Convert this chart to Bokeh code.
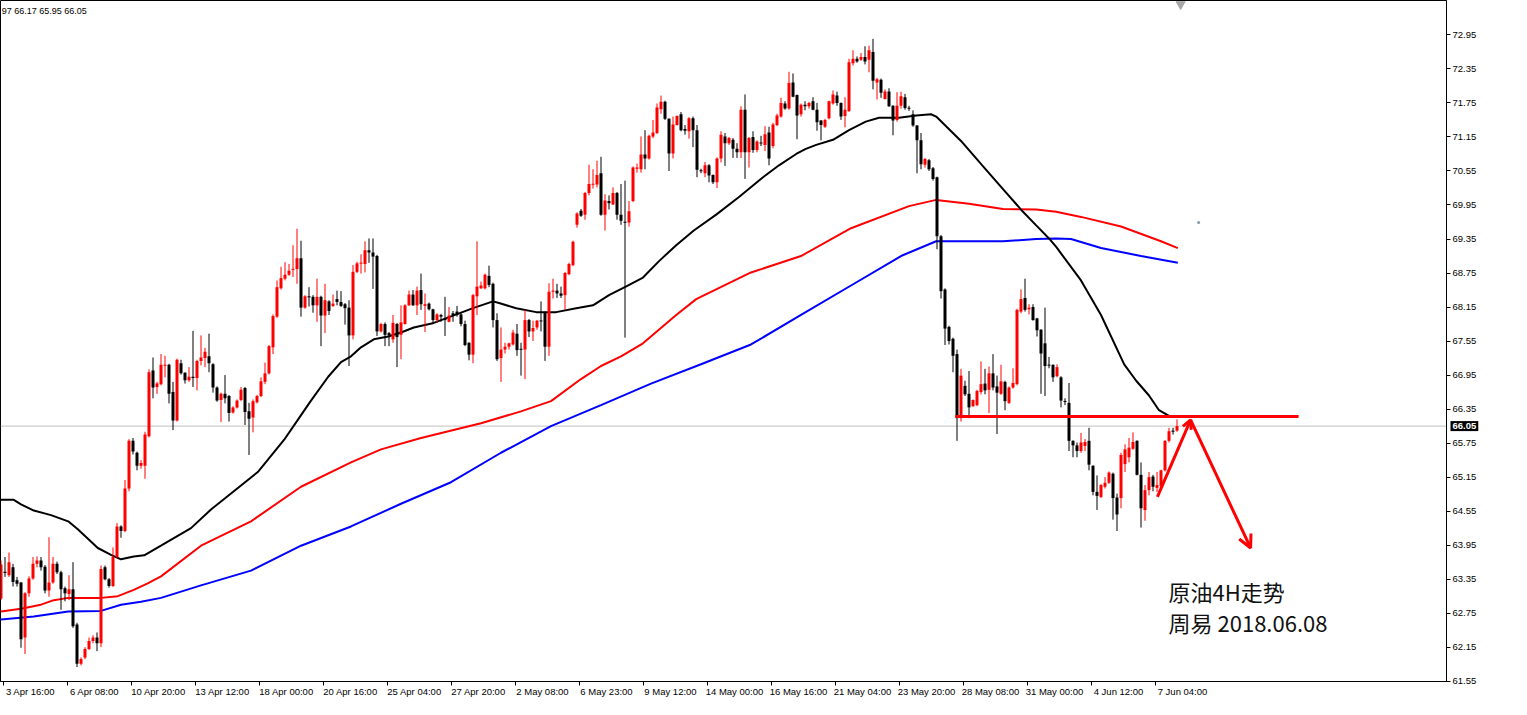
from bokeh.plotting import figure
from bokeh.models import (Range1d, FixedTicker, CustomJSTickFormatter, PrintfTickFormatter,
                          LinearAxis, Span, Label, Arrow, OpenHead, ColumnDataSource)
from bokeh.core.properties import value
from bokeh.embed import file_html
from bokeh.resources import INLINE

# ---------------- data (CL 4H) ----------------
opens = [
    63.01, 63.48, 63.42, 63.56, 63.33, 63.29, 62.32, 63.10, 63.36, 63.62,
    63.68, 63.57, 63.15, 63.29, 63.62, 63.47, 63.19, 63.09, 63.17, 62.55,
    61.86, 61.97, 62.12, 62.26, 62.32, 62.22, 63.56, 63.35, 63.23, 63.74,
    64.28, 64.20, 64.95, 65.79, 65.58, 65.35, 65.35, 65.87,
    67.03, 66.74, 66.79, 67.12, 67.13, 66.65, 66.15, 67.16, 66.99, 66.86,
    66.92, 66.90, 67.20, 67.25, 67.28, 67.14, 66.73, 66.51, 66.62, 66.58,
    66.29, 66.38, 66.51, 66.72, 66.31, 66.20, 66.47, 66.58, 66.83, 66.98,
    67.44, 67.98, 68.48, 68.65, 68.72, 68.81, 68.82, 69.01, 68.14, 68.34,
    68.33, 68.18, 68.33, 68.00, 68.25, 68.17, 68.29, 68.24, 68.20, 68.14,
    67.65, 68.77, 68.92, 68.91, 69.15, 69.11, 69.05, 67.72, 67.85, 67.69,
    67.58, 67.85, 67.66, 67.85, 68.18, 68.37, 68.18, 68.45, 68.17, 68.21,
    68.11, 67.92, 68.01, 67.94, 67.89, 68.04, 68.07,
    68.02, 67.85, 67.52, 67.31, 68.34, 68.48, 68.48, 68.70, 68.56, 67.92,
    67.25, 67.40, 67.45, 67.49, 67.68, 67.41, 67.40, 67.92, 67.72, 67.79,
    67.91, 68.05, 67.45, 68.42, 68.44, 68.39, 68.36, 68.73, 68.89,
    69.60, 69.85, 69.78, 70.16, 70.31, 70.31, 70.51, 69.78, 70.02, 69.96,
    70.16, 69.78, 69.65, 69.64, 70.02, 70.59, 70.58, 70.84, 70.77, 71.16,
    71.22, 71.64, 71.77, 71.47, 70.86, 71.36, 71.55, 71.29, 71.25, 71.48,
    71.27, 70.56, 70.51, 70.65, 70.48, 70.35, 70.77, 71.16, 71.04, 71.10,
    70.94, 70.88, 71.63, 70.88, 71.15, 70.92, 71.05, 71.01, 71.23, 70.99,
    71.36, 71.51, 71.74, 71.65, 72.11, 71.89, 71.55, 71.72, 71.69, 71.78,
    71.63, 71.44, 71.33, 71.48, 71.74, 71.88, 71.75, 71.52, 71.61, 72.45,
    72.53, 72.51, 72.56, 72.51, 72.65, 72.11, 72.16, 71.82, 71.95, 71.70,
    71.45, 71.70, 71.85, 71.66, 71.55, 71.35, 71.09, 70.66, 70.74, 70.60,
    70.44, 69.40, 68.46, 67.80, 67.59, 67.32, 66.19, 66.76, 66.62, 66.40,
    66.42, 66.65, 66.80, 66.69, 66.98, 66.75, 66.62, 66.83, 66.46, 66.73,
    66.79, 68.07, 68.31, 68.11, 68.15, 67.95, 67.75, 67.51, 67.13, 67.13,
    66.93, 66.91, 66.49, 66.46, 65.79, 65.71, 65.61, 65.70, 65.79, 65.35,
    64.89, 64.80, 64.98, 65.05, 65.21, 64.79, 64.78, 65.38, 65.50, 65.65,
    65.79, 65.19, 64.57, 64.92, 65.16, 64.96, 64.99, 65.27, 65.79, 65.97, 65.97,
]
highs = [
    63.68, 63.74, 63.82, 63.62, 63.39, 63.30, 63.12, 63.40, 63.74, 63.75,
    63.74, 63.60, 64.09, 63.74, 63.66, 63.50, 63.22, 63.42, 63.65, 62.58,
    61.97, 62.15, 62.32, 62.36, 62.41, 63.59, 63.59, 63.37, 63.91, 64.34,
    64.30, 65.10, 65.82, 65.84, 65.60, 65.45, 65.95, 67.05,
    67.26, 66.83, 67.32, 67.29, 67.15, 66.83, 67.24, 67.22, 67.00, 67.09,
    67.73, 67.22, 67.65, 67.43, 67.68, 67.16, 66.75, 66.64, 66.95, 66.60,
    66.40, 66.52, 66.74, 66.74, 66.46, 66.52, 66.60, 66.91, 67.17, 67.48,
    68.02, 68.62, 68.86, 68.94, 68.91, 69.24, 69.53, 69.32, 68.36, 68.50,
    68.36, 68.65, 68.35, 68.56, 68.27, 68.37, 68.44, 68.43, 68.22, 68.27,
    68.89, 68.95, 69.08, 69.31, 69.36, 69.36, 69.07, 67.87, 67.88, 67.71,
    68.01, 67.87, 68.18, 68.20, 68.44, 68.45, 68.51, 68.74, 68.39, 68.23,
    68.12, 68.04, 68.03, 68.33, 68.15, 68.08, 68.17,
    68.04, 67.91, 67.53, 68.38, 69.31, 68.60, 68.74, 68.88, 68.58, 68.04,
    67.79, 67.52, 67.52, 67.75, 67.85, 67.52, 68.10, 67.94, 67.91, 67.92,
    68.25, 68.07, 68.57, 68.65, 68.56, 68.51, 68.77, 68.93, 69.32,
    69.82, 69.88, 70.18, 70.66, 70.58, 70.73, 70.80, 70.14, 70.12, 70.26,
    70.18, 70.32, 70.38, 70.02, 70.63, 70.68, 71.16, 71.27, 71.19, 71.45,
    71.74, 71.88, 71.79, 71.48, 71.51, 71.53, 71.59, 71.36, 71.50, 71.51,
    71.36, 70.59, 70.71, 70.67, 70.49, 70.79, 71.25, 71.22, 71.15, 71.13,
    71.04, 71.69, 71.90, 71.15, 71.25, 71.09, 71.17, 71.34, 71.33, 71.40,
    71.56, 71.84, 71.78, 72.30, 72.27, 71.90, 71.74, 71.78, 71.77, 71.85,
    71.75, 71.45, 71.47, 71.79, 71.97, 71.95, 71.76, 71.85, 72.53, 72.68,
    72.57, 72.63, 72.75, 72.76, 72.88, 72.19, 72.18, 71.99, 72.01, 71.71,
    71.94, 71.95, 71.91, 71.70, 71.62, 71.36, 71.22, 70.78, 70.76, 70.62,
    70.45, 69.42, 68.48, 67.82, 67.61, 67.40, 67.06, 66.85, 67.02, 66.52,
    66.69, 67.19, 67.06, 67.10, 67.32, 66.94, 67.13, 66.85, 66.75, 67.07,
    68.12, 68.46, 68.65, 68.20, 68.20, 67.96, 67.76, 68.14, 67.27, 67.14,
    67.14, 66.93, 66.54, 66.81, 65.80, 65.76, 65.93, 65.82, 66.02, 65.36,
    65.18, 65.03, 65.15, 65.25, 65.23, 64.86, 65.58, 65.73, 65.84, 65.94,
    65.80, 65.41, 65.01, 65.24, 65.19, 65.24, 65.28, 65.80, 66.02, 66.02, 66.17,
]
lows = [
    62.98, 63.39, 63.39, 63.22, 63.22, 62.14, 62.03, 63.04, 63.34, 63.56,
    63.50, 63.10, 63.04, 63.27, 63.44, 62.81, 62.96, 62.98, 62.49, 61.80,
    61.83, 61.94, 62.10, 62.22, 62.08, 62.15, 63.33, 63.20, 63.21, 63.72,
    64.08, 64.18, 64.90, 65.55, 65.27, 65.30, 65.12, 65.85,
    66.54, 66.62, 66.77, 66.91, 66.45, 65.98, 66.13, 66.96, 66.80, 66.83,
    66.74, 66.68, 67.12, 67.09, 67.00, 66.64, 66.48, 66.12, 66.45, 66.13,
    66.27, 66.36, 66.49, 66.07, 65.54, 65.94, 66.45, 66.56, 66.79, 66.96,
    67.32, 67.96, 68.46, 68.62, 68.70, 68.68, 68.56, 67.98, 68.12, 68.16,
    68.05, 67.89, 67.46, 67.69, 68.01, 68.15, 68.18, 68.15, 67.84, 67.11,
    67.58, 68.75, 68.74, 68.76, 68.93, 68.47, 67.64, 67.70, 67.46, 67.46,
    67.52, 67.09, 67.23, 67.84, 68.17, 68.17, 68.01, 68.10, 67.71, 68.09,
    67.85, 67.87, 67.89, 67.64, 67.88, 67.89, 67.98,
    67.81, 67.46, 67.21, 67.16, 68.01, 68.47, 68.46, 68.50, 67.79, 67.20,
    66.83, 67.33, 67.40, 67.47, 67.29, 66.94, 66.88, 67.62, 67.55, 67.75,
    67.72, 67.20, 67.29, 68.30, 68.31, 68.31, 68.10, 68.71, 68.87,
    69.55, 69.74, 69.69, 70.12, 70.24, 70.26, 69.76, 69.50, 69.87, 69.95,
    69.69, 69.60, 67.61, 69.57, 70.00, 70.52, 70.52, 70.58, 70.75, 71.13,
    71.20, 71.56, 71.45, 70.55, 70.77, 71.35, 71.25, 71.19, 71.12, 70.97,
    70.44, 70.51, 70.44, 70.35, 70.32, 70.25, 70.70, 70.64, 71.01, 70.78,
    70.78, 70.78, 70.41, 70.61, 70.87, 70.88, 70.99, 70.90, 70.65, 70.95,
    71.34, 71.49, 71.63, 71.63, 71.85, 71.11, 71.51, 71.62, 71.65, 71.62,
    71.26, 71.09, 71.31, 71.46, 71.72, 71.70, 71.45, 71.32, 71.59, 72.41,
    72.46, 72.49, 72.43, 72.29, 71.99, 71.81, 71.84, 71.81, 71.68, 71.18,
    71.42, 71.65, 71.63, 71.61, 71.33, 70.51, 70.58, 70.61, 70.55, 70.38,
    69.17, 68.30, 67.48, 67.49, 67.00, 65.79, 66.13, 66.58, 66.19, 66.39,
    66.40, 66.61, 66.61, 66.28, 66.68, 65.91, 66.60, 66.33, 66.44, 66.71,
    66.77, 68.04, 68.07, 68.02, 67.91, 67.63, 66.62, 66.58, 67.07, 66.83,
    66.91, 66.38, 66.42, 65.61, 65.50, 65.50, 65.58, 65.61, 65.27, 64.83,
    64.57, 64.78, 64.95, 65.03, 64.40, 64.20, 64.60, 65.24, 65.41, 65.63,
    65.18, 64.26, 64.38, 64.83, 64.90, 64.89, 64.92, 65.25, 65.76, 65.90, 65.95,
]
closes = [
    63.61, 63.46, 63.65, 63.30, 63.27, 62.29, 63.10, 63.36, 63.62, 63.68,
    63.56, 63.15, 63.29, 63.62, 63.47, 63.17, 63.10, 63.17, 62.52, 61.86,
    61.94, 62.12, 62.26, 62.32, 62.22, 63.53, 63.35, 63.23, 63.74, 64.28,
    64.20, 64.95, 65.79, 65.60, 65.35, 65.40, 65.90, 67.00,
    66.73, 66.80, 67.13, 67.13, 66.62, 66.15, 67.22, 66.98, 66.86, 66.92,
    66.90, 67.20, 67.26, 67.36, 67.16, 66.73, 66.50, 66.62, 66.54, 66.28,
    66.38, 66.50, 66.69, 66.30, 66.18, 66.49, 66.58, 66.84, 66.98, 67.46,
    67.99, 68.50, 68.66, 68.72, 68.79, 68.82, 69.01, 68.14, 68.34, 68.32,
    68.18, 68.33, 68.00, 68.27, 68.08, 68.21, 68.24, 68.17, 68.13, 67.65,
    68.77, 68.92, 68.93, 69.15, 69.11, 69.04, 67.72, 67.85, 67.66, 67.65,
    67.87, 67.62, 67.88, 68.18, 68.37, 68.18, 68.44, 68.20, 68.20, 68.11,
    67.92, 68.02, 67.98, 67.92, 68.00, 68.01, 68.01,
    67.85, 67.48, 67.31, 68.36, 68.51, 68.53, 68.72, 68.54, 67.92, 67.23,
    67.40, 67.45, 67.51, 67.70, 67.39, 67.40, 67.92, 67.72, 67.78, 67.91,
    67.90, 67.45, 68.42, 68.44, 68.39, 68.35, 68.75, 68.91, 69.30,
    69.80, 69.76, 70.16, 70.32, 70.32, 70.48, 69.78, 70.03, 69.98, 70.16,
    69.78, 69.67, 69.64, 69.84, 70.61, 70.61, 70.84, 70.77, 71.17, 71.23,
    71.67, 71.77, 71.47, 70.86, 71.37, 71.52, 71.27, 71.26, 71.48, 71.27,
    70.57, 70.55, 70.65, 70.47, 70.35, 70.77, 71.19, 71.04, 71.13, 70.94,
    70.88, 71.63, 70.88, 71.13, 70.92, 71.07, 71.04, 71.20, 70.77, 71.37,
    71.53, 71.75, 71.65, 72.10, 71.86, 71.53, 71.72, 71.69, 71.75, 71.63,
    71.41, 71.36, 71.45, 71.78, 71.90, 71.75, 71.51, 71.63, 72.47, 72.53,
    72.48, 72.56, 72.48, 72.68, 72.14, 72.17, 71.93, 71.95, 71.69, 71.44,
    71.70, 71.87, 71.66, 71.65, 71.35, 71.09, 70.67, 70.76, 70.58, 70.41,
    69.40, 68.43, 67.77, 67.55, 67.29, 66.19, 66.94, 66.61, 66.38, 66.51,
    66.67, 66.79, 66.68, 66.98, 66.73, 66.64, 66.84, 66.49, 66.73, 66.81,
    68.10, 68.29, 68.10, 68.14, 67.92, 67.74, 67.33, 67.11, 67.12, 66.91,
    67.09, 66.50, 66.48, 65.79, 65.71, 65.61, 65.76, 65.77, 65.37, 64.89,
    64.82, 65.01, 65.05, 65.23, 64.78, 64.49, 65.54, 65.64, 65.67, 65.77,
    65.19, 64.60, 64.92, 65.15, 64.98, 65.01, 65.27, 65.79, 65.96, 65.95, 66.05,
]

# moving averages: (bar index, value) samples
ma_black_idx = [0, 3.2, 5, 8.2, 12.5, 16.8, 19.2, 21.8, 24.2, 27.5,
                30, 33.2, 35.8, 40, 47.5, 52.5, 57.5, 64.2, 70.8, 74.2,
                77.5, 81.8, 85, 87.5, 90, 93.2, 96.8, 100, 103.2, 108.2,
                114.2, 118, 123, 124.5, 128.8, 133.8, 138.8, 143.8, 148, 152,
                156.2, 160.5, 164.5, 168.8, 173.2, 178.8, 184.5, 190.5, 194.5, 198.8,
                201.2, 203.8, 208, 212, 216.2, 219.5, 224.5, 228.8, 232.5, 233.8,
                240, 245.8, 250.5, 255.5, 258.8, 262, 263.8, 270, 275, 280.8,
                283.8, 287, 289.5, 292, 294.2]
ma_black_val = [64.75, 64.75, 64.67, 64.56, 64.48, 64.37, 64.23, 64.06, 63.90, 63.78,
                63.70, 63.75, 63.77, 63.94, 64.25, 64.58, 64.86, 65.24, 65.81, 66.16,
                66.50, 66.92, 67.18, 67.28, 67.44, 67.58, 67.63, 67.70, 67.79, 67.87,
                68.03, 68.13, 68.25, 68.22, 68.13, 68.06, 68.06, 68.13, 68.18, 68.36,
                68.51, 68.67, 68.96, 69.24, 69.50, 69.78, 70.09, 70.44, 70.65, 70.85,
                70.94, 71.01, 71.10, 71.27, 71.42, 71.49, 71.49, 71.53, 71.55, 71.51,
                71.08, 70.61, 70.23, 69.83, 69.59, 69.36, 69.21, 68.62, 68.01, 67.14,
                66.85, 66.59, 66.33, 66.23, 66.21]
ma_red_idx = [0, 5, 10, 13.2, 16.8, 25, 29.2, 33.2, 36.8, 40,
              50, 62.5, 75, 87.5, 95, 105, 120, 130, 137.5, 145,
              150, 155, 160.5, 168.8, 173.8, 187.5, 200, 212.5, 227, 233.8,
              242, 250.5, 258.8, 263.8, 270, 280, 290, 294.2]
ma_red_val = [62.78, 62.83, 62.90, 62.98, 63.02, 63.02, 63.05, 63.16, 63.28, 63.40,
              63.94, 64.37, 64.98, 65.41, 65.64, 65.84, 66.10, 66.31, 66.49, 66.88,
              67.11, 67.28, 67.51, 68.01, 68.29, 68.76, 69.05, 69.54, 69.93, 70.04,
              69.97, 69.88, 69.87, 69.83, 69.74, 69.57, 69.31, 69.19]
ma_blue_idx = [0, 8.2, 16.8, 25, 30, 35, 40, 50, 62.5, 75,
               87.5, 100, 112.5, 125, 137.5, 150, 162.5, 175, 187.5, 200,
               212.5, 225, 233.8, 242, 250.5, 258.8, 263.8, 267.5, 275, 285, 294.2]
ma_blue_val = [62.64, 62.69, 62.78, 62.79, 62.90, 62.95, 63.02, 63.24, 63.50, 63.94,
               64.28, 64.68, 65.06, 65.58, 66.05, 66.42, 66.80, 67.14, 67.49, 68.01,
               68.53, 69.05, 69.31, 69.31, 69.31, 69.35, 69.36, 69.35, 69.19, 69.05, 68.93]

date_labels = ["3 Apr 16:00", "6 Apr 08:00", "10 Apr 20:00", "13 Apr 12:00", "18 Apr 00:00",
               "20 Apr 16:00", "25 Apr 04:00", "27 Apr 20:00", "2 May 08:00", "6 May 23:00",
               "9 May 12:00", "14 May 00:00", "16 May 16:00", "21 May 04:00", "23 May 20:00",
               "28 May 08:00", "31 May 00:00", "4 Jun 12:00", "7 Jun 04:00"]
price_ticks = [61.55, 62.15, 62.75, 63.35, 63.95, 64.55, 65.15, 65.75, 66.35, 66.95,
               67.55, 68.15, 68.75, 69.35, 69.95, 70.55, 71.15, 71.75, 72.35, 72.95]

header_text = "97 66.17 65.95 66.05"
last_price = 66.05
support_level = 66.22
support_span = [238.6, 324.4]
arrow_up = (289.1, 64.80, 297.4, 66.16)
arrow_down = (297.4, 66.16, 312.4, 63.90)
note_lines = ["原油4H走势", "周易  2018.06.08"]
note_pos = (291.9, [63.14, 62.60])

# ---------------- figure ----------------
RED = "#FF0000"
FW, FH = 1446, 681
PX_PER_BAR = 4.0                      # MT4 zoom: one 4H bar every 4 px
x_lo = -0.125
x_hi = x_lo + FW / PX_PER_BAR
y_lo, y_hi = 61.545, 73.557
FONT = "Liberation Sans"
AXIS_PANEL_W = 30                     # approx. width taken by the price axis

p = figure(frame_width=FW, frame_height=FH, output_backend="svg", toolbar_location=None,
           x_range=Range1d(x_lo, x_hi), y_range=Range1d(y_lo, y_hi),
           y_axis_location=None, x_axis_location=None)
p.min_border_left = 0
p.min_border_top = 0
p.min_border_bottom = 0
p.min_border_right = 0
p.outline_line_color = "black"
p.outline_line_width = 1
p.xgrid.grid_line_color = None
p.ygrid.grid_line_color = None
p.background_fill_color = "white"
p.border_fill_color = "white"

yax = LinearAxis(ticker=FixedTicker(ticks=price_ticks),
                 formatter=PrintfTickFormatter(format="%.2f"),
                 major_tick_out=4, major_tick_in=0, minor_tick_line_color=None,
                 axis_line_color="black", major_label_standoff=2,
                 major_label_text_font=FONT, major_label_text_font_size="9.5px",
                 major_label_text_color="black")
p.add_layout(yax, "right")

# price tag: its own side panel outside the axis, drawn back over the label column
tag = Label(x=-AXIS_PANEL_W + 1, y=last_price, x_units="screen", y_units="data",
            text="66.05", text_font=FONT,
            text_font_size="9.5px", text_font_style="bold", text_baseline="middle",
            text_color="white", background_fill_color="black", padding=2)
p.add_layout(tag, "right")

tick_pos = [0.625 + 16 * k for k in range(len(date_labels))]
label_pos = [t + 6.75 for t in tick_pos]

ax_ticks = LinearAxis(ticker=FixedTicker(ticks=tick_pos),
                      formatter=CustomJSTickFormatter(code="return '';"),
                      major_label_text_font_size="0px", major_label_standoff=0,
                      major_tick_out=4, major_tick_in=0,
                      minor_tick_line_color=None, axis_line_color="black")
ax_labels = LinearAxis(ticker=FixedTicker(ticks=label_pos),
                       formatter=CustomJSTickFormatter(args=dict(labels=date_labels),
                                                       code="return labels[index] || '';"),
                       major_tick_line_color=None, minor_tick_line_color=None,
                       axis_line_color=None, major_label_standoff=0,
                       major_tick_out=0, major_tick_in=0,
                       major_label_text_font=FONT, major_label_text_font_size="9.5px",
                       major_label_text_color="black")
p.add_layout(ax_ticks, "below")
p.add_layout(ax_labels, "below")

# current price line
p.add_layout(Span(location=last_price, dimension="width", line_color="#C0C0C0",
                  line_width=1, level="underlay"))

# moving averages
p.line(ma_blue_idx, ma_blue_val, line_color="#0000FF", line_width=2)
p.line(ma_red_idx, ma_red_val, line_color=RED, line_width=2)
p.line(ma_black_idx, ma_black_val, line_color="black", line_width=2)

# candles
xs, hi, lo, bt, bb, col = [], [], [], [], [], []
for i, (o, h, l, c) in enumerate(zip(opens, highs, lows, closes)):
    xs.append(i)
    top, bot = max(o, c), min(o, c)
    if top - bot < 0.018:
        mid = (top + bot) / 2
        top, bot = mid + 0.009, mid - 0.009
    bt.append(top)
    bb.append(bot)
    hi.append(max(h, top))
    lo.append(min(l, bot))
    col.append(RED if c > o else "black")
src = ColumnDataSource(dict(x=xs, hi=hi, lo=lo, bt=bt, bb=bb, col=col))
p.segment(x0="x", y0="lo", x1="x", y1="hi", line_color="col", line_width=1, source=src)
p.vbar(x="x", width=0.75, top="bt", bottom="bb", fill_color="col", line_color=None, source=src)

# drawings
p.line(support_span, [support_level, support_level], line_color=RED, line_width=3)
for (xa, ya, xb, yb), sz in ((arrow_up, 9), (arrow_down, 13)):
    p.add_layout(Arrow(x_start=xa, y_start=ya, x_end=xb, y_end=yb,
                       line_color=RED, line_width=3,
                       end=OpenHead(size=sz, line_color=RED, line_width=3)))

nx, nys = note_pos
p.text(x=[nx, nx], y=nys, text=note_lines, text_font=value("Noto Sans CJK SC"),
       text_font_size="22px", text_baseline="middle", text_align="left",
       text_color="#111111")

# chart-shift marker and stray dot
p.scatter(x=[294.9], y=[73.49], marker="inverted_triangle", size=9,
          fill_color="#A8A8A8", line_color="#A8A8A8")
p.scatter(x=[299.4], y=[69.64], size=3, fill_color="#8899AA", line_color=None)

# header text
p.add_layout(Label(x=0.2, y=73.38, text=header_text, text_font=FONT,
                   text_font_size="9px", text_baseline="middle", text_color="black"))

open("out.html", "w").write(file_html(p, INLINE))
